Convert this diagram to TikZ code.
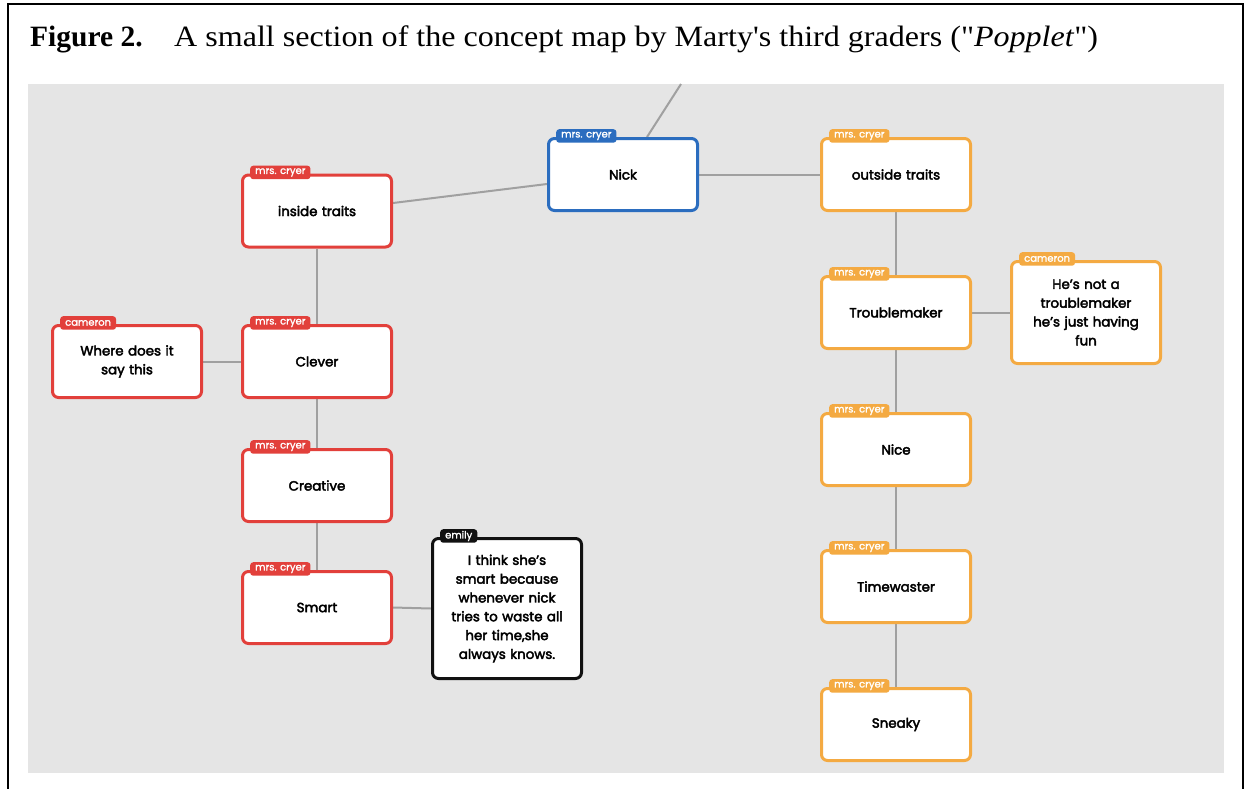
\documentclass[tikz,border=0pt]{standalone}
\usepackage{graphicx}
\usepackage{fontspec}
\newfontfamily\titlefont{Liberation Serif}
\newfontfamily\popfont{Poppins}[FakeBold=3]
\newfontfamily\tagfont{Poppins}[FakeBold=1.5]
\definecolor{cred}{HTML}{E2403B}
\definecolor{cblue}{HTML}{2B6DBF}
\definecolor{corange}{HTML}{F4AA42}
\definecolor{cblack}{HTML}{111111}
\definecolor{bggray}{HTML}{E5E5E5}
\definecolor{linegray}{HTML}{A0A0A0}
\pgfdeclarelayer{bg}
\pgfdeclarelayer{lines}
\pgfsetlayers{bg,lines,main}
\begin{document}
\begin{tikzpicture}[x=1pt,y=-1pt,
  conn/.style={draw=linegray, line width=2pt},
  pbox/.style={draw=#1, fill=white, line width=3pt, rounded corners=6pt,
    minimum width=149pt, minimum height=72pt, inner sep=0pt, align=center,
    text width=140pt, font=\popfont\fontsize{13.4}{18.8}\selectfont},
  ptag/.style={fill=#1, text=white, rounded corners=3pt, inner xsep=5pt,
    inner ysep=0pt, minimum height=13.5pt, anchor=north west,
    font=\tagfont\fontsize{10}{10}\selectfont},
  ttl/.style={anchor=base west, inner sep=0pt, font=\titlefont\fontsize{29.5}{31}\selectfont}
]
\useasboundingbox (0,0) rectangle (1248,788);
\begin{pgfonlayer}{bg}
\fill[white] (0,0) rectangle (1248,788);
\draw[line width=1.5pt] (8,792) -- (8,4) -- (1243,4) -- (1243,792);
\fill[bggray] (28,84) rectangle (1224,773);
\end{pgfonlayer}
\node[ttl] (title1) at (30,46) {\bfseries Figure 2.};
\node[ttl] (title2) at (174,46)
  {\scalebox{1.087}[1]{A small section of the concept map by Marty's third graders ("\textit{Popplet}")}};

% nodes
\node[pbox=cred] (inside) at (317,211) {inside traits};
\node[ptag=cred] (tinside) at ([xshift=9pt,yshift=8pt]inside.north west) {mrs. cryer};
\node[pbox=cblue] (nick) at (623,174.5) {Nick};
\node[ptag=cblue] (tnick) at ([xshift=9pt,yshift=8pt]nick.north west) {mrs. cryer};
\node[pbox=corange] (outside) at (896,174.5) {outside traits};
\node[ptag=corange] (toutside) at ([xshift=9pt,yshift=8pt]outside.north west) {mrs. cryer};
\node[pbox=corange] (trouble) at (896,312.5) {Troublemaker};
\node[ptag=corange] (ttrouble) at ([xshift=9pt,yshift=8pt]trouble.north west) {mrs. cryer};
\node[pbox=corange, minimum height=102pt] (cam2) at (1086,312.5) {He’s not a\\troublemaker\\he’s just having\\fun};
\node[ptag=corange] (tcam2) at ([xshift=9pt,yshift=8pt]cam2.north west) {cameron};
\node[pbox=corange] (nice) at (896,449.5) {Nice};
\node[ptag=corange] (tnice) at ([xshift=9pt,yshift=8pt]nice.north west) {mrs. cryer};
\node[pbox=corange] (time) at (896,586.5) {Timewaster};
\node[ptag=corange] (ttime) at ([xshift=9pt,yshift=8pt]time.north west) {mrs. cryer};
\node[pbox=corange] (sneaky) at (896,724.5) {Sneaky};
\node[ptag=corange] (tsneaky) at ([xshift=9pt,yshift=8pt]sneaky.north west) {mrs. cryer};
\node[pbox=cred] (clever) at (317,361.5) {Clever};
\node[ptag=cred] (tclever) at ([xshift=9pt,yshift=8pt]clever.north west) {mrs. cryer};
\node[pbox=cred] (where) at (127,361.5) {Where does it\\say this};
\node[ptag=cred] (twhere) at ([xshift=9pt,yshift=8pt]where.north west) {cameron};
\node[pbox=cred] (creative) at (317,485.5) {Creative};
\node[ptag=cred] (tcreative) at ([xshift=9pt,yshift=8pt]creative.north west) {mrs. cryer};
\node[pbox=cred] (smart) at (317,607.5) {Smart};
\node[ptag=cred] (tsmart) at ([xshift=9pt,yshift=8pt]smart.north west) {mrs. cryer};
\node[pbox=cblack, minimum height=140pt] (emily) at (507,608.5) {I think she’s\\smart because\\whenever nick\\tries to waste all\\her time,she\\always knows.};
\node[ptag=cblack] (temily) at ([xshift=9pt,yshift=8pt]emily.north west) {emily};

\coordinate (topend) at (681,84);

\begin{pgfonlayer}{lines}
\draw[conn] (nick) -- (topend);
\draw[conn] ([yshift=8pt]inside.east) -- ([yshift=-9.5pt]nick.west);
\draw[conn] (nick.east) -- (outside.west);
\draw[conn] (outside.south) -- (trouble.north);
\draw[conn] (trouble.east) -- (cam2.west);
\draw[conn] (trouble.south) -- (nice.north);
\draw[conn] (nice.south) -- (time.north);
\draw[conn] (time.south) -- (sneaky.north);
\draw[conn] (inside.south) -- (clever.north);
\draw[conn] (clever.west) -- (where.east);
\draw[conn] (clever.south) -- (creative.north);
\draw[conn] (creative.south) -- (smart.north);
\draw[conn] (smart.east) -- (emily.west);
\end{pgfonlayer}
\end{tikzpicture}
\end{document}
